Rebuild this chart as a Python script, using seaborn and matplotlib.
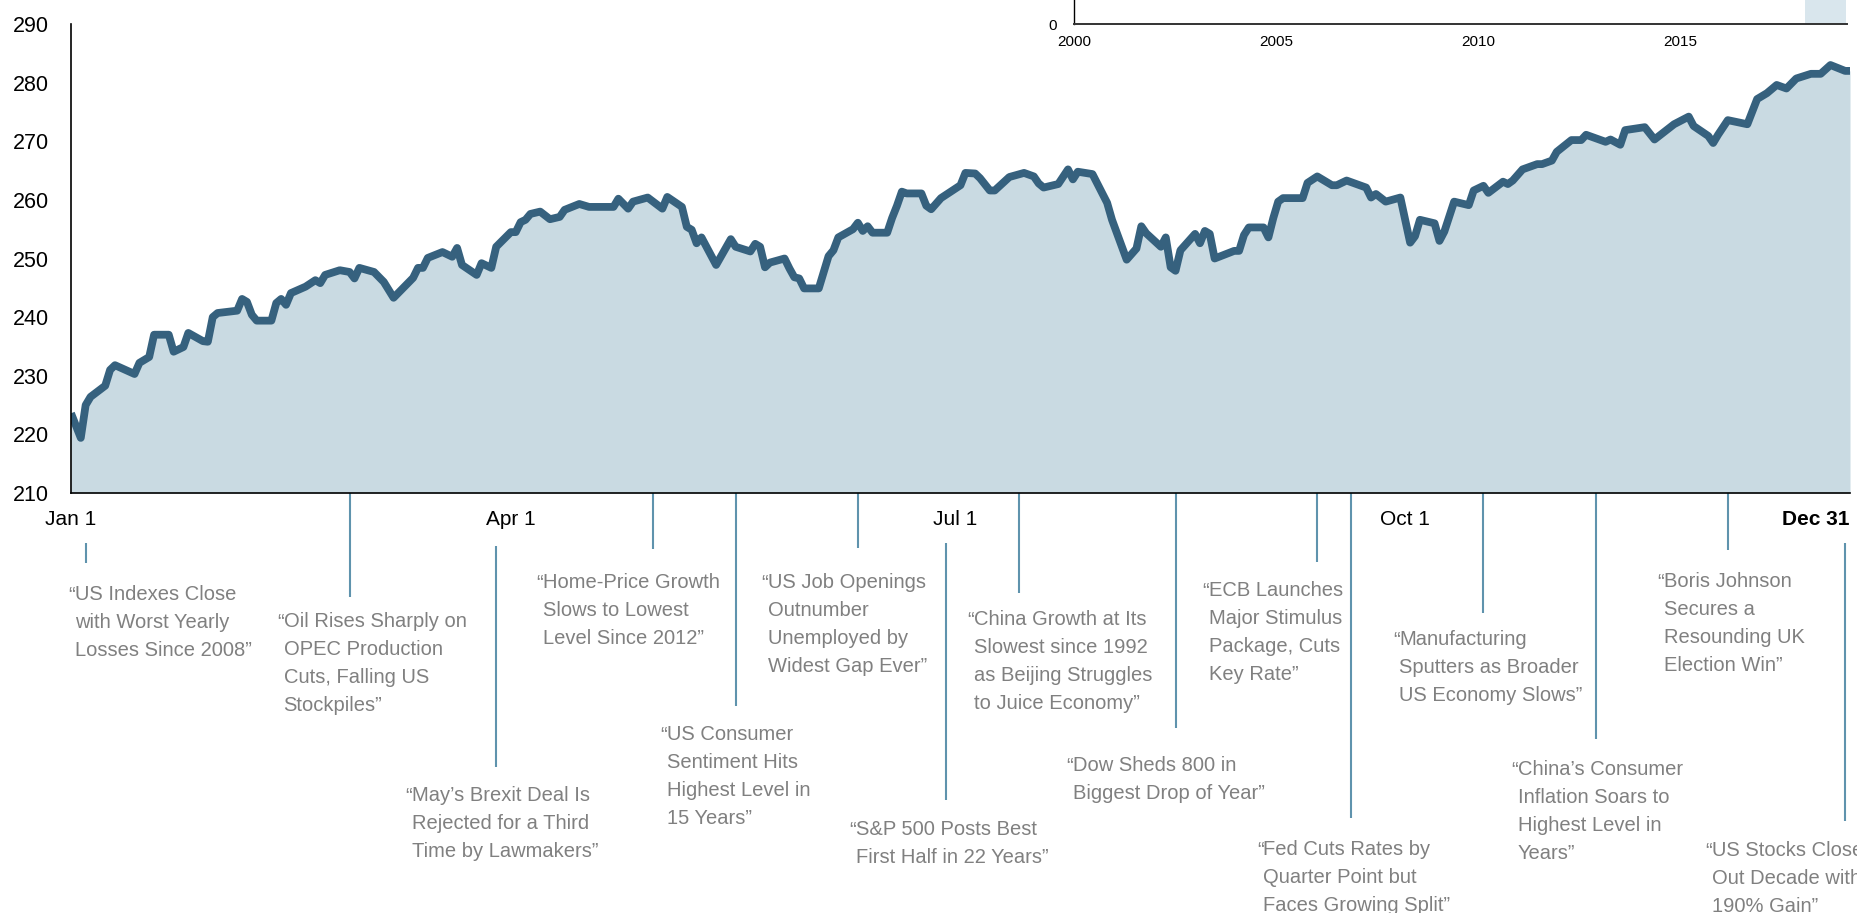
import matplotlib
matplotlib.use("Agg")
import matplotlib.pyplot as plt
import matplotlib.transforms as mtransforms
from matplotlib import font_manager
import pandas as pd
import seaborn as sns

# --- index level through 2019 (day of year, value) ---
trade_days = [0, 2, 3, 4, 7, 8, 9, 13, 14, 16, 17, 20, 21, 23, 24, 27, 28, 29, 30, 34,
              35, 36, 37, 38, 41, 42, 43, 44, 45, 48, 50, 51, 52, 55, 57, 58, 59, 62, 64, 66,
              70, 71, 72, 73, 76, 78, 79, 80, 83, 84, 86, 87, 90, 91, 92, 93, 94, 96, 98, 100,
              101, 104, 106, 111, 112, 114, 115, 118, 121, 122, 125, 126, 127, 128, 129, 132, 135, 136, 139, 140,
              141, 142, 143, 146, 147, 148, 149, 150, 153, 155, 156, 157, 160, 161, 162, 163, 164, 167, 168, 169,
              170, 171, 174, 175, 176, 178, 182, 183, 185, 186, 188, 189, 192, 195, 197, 198, 199, 202, 204, 205,
              206, 209, 212, 213, 216, 218, 219, 220, 223, 224, 225, 226, 227, 230, 231, 232, 233, 234, 238, 239,
              240, 241, 244, 245, 246, 247, 248, 252, 253, 255, 258, 259, 261, 265, 266, 267, 269, 272, 274, 275,
              276, 279, 280, 281, 283, 286, 287, 289, 290, 293, 294, 295, 297, 300, 301, 303, 304, 307, 309, 310,
              314, 315, 317, 318, 322, 324, 328, 331, 332, 335, 336, 337, 339, 343, 345, 347, 349, 351, 353, 356,
              358, 360, 363, 364]
index_level = [223.6, 219.4, 225.0, 226.4, 228.3, 231.0, 231.8, 230.3, 232.2, 233.2, 237.0, 237.0, 234.1, 234.9, 237.3, 235.9, 235.8, 240.0, 240.7, 241.1,
               243.1, 242.6, 240.4, 239.4, 239.4, 242.4, 243.1, 242.1, 244.1, 245.2, 246.3, 245.8, 247.2, 248.0, 247.7, 246.6, 248.4, 247.7, 246.0, 243.3,
               246.7, 248.4, 248.4, 250.1, 251.1, 250.3, 251.8, 248.9, 247.2, 249.2, 248.4, 252.0, 254.5, 254.5, 256.2, 256.6, 257.6, 258.0, 256.7, 257.1,
               258.3, 259.3, 258.8, 258.8, 260.2, 258.5, 259.7, 260.4, 258.5, 260.5, 258.8, 255.4, 254.9, 252.6, 253.6, 248.9, 253.3, 252.0, 251.2, 252.5,
               252.0, 248.5, 249.3, 250.0, 248.3, 246.8, 246.6, 244.9, 244.9, 250.4, 251.4, 253.6, 255.0, 256.1, 254.7, 255.5, 254.4, 254.4, 256.9, 259.0,
               261.4, 261.1, 261.1, 259.0, 258.4, 260.3, 262.5, 264.6, 264.5, 263.7, 261.6, 261.6, 263.9, 264.6, 264.0, 262.8, 262.1, 262.7, 265.2, 263.5,
               264.8, 264.4, 259.5, 256.6, 249.8, 251.7, 255.5, 254.3, 252.0, 253.6, 248.5, 247.9, 251.4, 254.2, 252.6, 254.7, 254.2, 250.0, 251.3, 251.3,
               254.0, 255.3, 255.3, 253.6, 256.9, 259.7, 260.3, 260.3, 262.9, 264.0, 262.5, 262.5, 263.3, 262.1, 260.4, 261.0, 259.7, 260.4, 252.7, 253.8,
               256.6, 256.0, 253.0, 254.6, 259.7, 259.1, 261.6, 262.4, 261.2, 263.1, 262.7, 263.3, 265.2, 266.1, 266.1, 266.7, 268.2, 270.2, 270.2, 271.1,
               269.9, 270.3, 269.4, 271.9, 272.4, 270.3, 272.9, 274.2, 272.6, 270.9, 269.7, 271.1, 273.6, 272.9, 277.2, 278.2, 279.6, 279.0, 280.7, 281.5,
               281.5, 283.0, 282.0, 282.0]

tick_dates = ["2019-01-01", "2019-04-01", "2019-07-01", "2019-10-01", "2019-12-31"]
tick_labels = ["Jan 1", "Apr 1", "Jul 1", "Oct 1", "Dec 31"]
y_ticks = [210, 220, 230, 240, 250, 260, 270, 280, 290]

# headlines
event_dates = ["2019-01-04", "2019-02-27", "2019-03-29", "2019-04-30", "2019-05-17",
               "2019-06-11", "2019-06-29", "2019-07-14", "2019-08-15", "2019-09-13",
               "2019-09-20", "2019-10-17", "2019-11-09", "2019-12-06", "2019-12-30"]
headlines = [
    "US Indexes Close\nwith Worst Yearly\nLosses Since 2008”",
    "Oil Rises Sharply on\nOPEC Production\nCuts, Falling US\nStockpiles”",
    "May’s Brexit Deal Is\nRejected for a Third\nTime by Lawmakers”",
    "Home-Price Growth\nSlows to Lowest\nLevel Since 2012”",
    "US Consumer\nSentiment Hits\nHighest Level in\n15 Years”",
    "US Job Openings\nOutnumber\nUnemployed by\nWidest Gap Ever”",
    "S&P 500 Posts Best\nFirst Half in 22 Years”",
    "China Growth at Its\nSlowest since 1992\nas Beijing Struggles\nto Juice Economy”",
    "Dow Sheds 800 in\nBiggest Drop of Year”",
    "ECB Launches\nMajor Stimulus\nPackage, Cuts\nKey Rate”",
    "Fed Cuts Rates by\nQuarter Point but\nFaces Growing Split”",
    "Manufacturing\nSputters as Broader\nUS Economy Slows”",
    "China’s Consumer\nInflation Soars to\nHighest Level in\nYears”",
    "Boris Johnson\nSecures a\nResounding UK\nElection Win”",
    "US Stocks Close\nOut Decade with\n190% Gain”",
]

# inset: long-run context, 2019 highlighted
inset_ticks = [2000, 2005, 2010, 2015]
highlight_span = (2018.1, 2019.1)

# layout of the headline callouts (figure pixels from top)
leader_top = [543, 493, 546, 493, 493, 493, 543, 493, 493, 493, 493, 493, 493, 493, 543]
leader_bottom = [563, 597, 767, 549, 706, 548, 800, 593, 728, 562, 818, 613, 739, 550, 821]
text_dx = [-11, -66, -84, -110, -69, -90, -90, -45, -103, -108, -88, -84, -78, -64, -133]
text_first = [592, 619, 793, 580, 732, 580, 827, 617, 763, 588, 847, 637, 767, 579, 848]

LINE = "#36617e"
FILL = "#c9dae2"
LEADER = "#5f93ad"
GREY = "#808080"
W, H, DPI = 1858, 913, 100

sns.set_theme(style="white")
plt.rcParams["font.family"] = ["Liberation Sans", "DejaVu Sans"]

names = {f.name for f in font_manager.fontManager.ttflist}
if "Liberation Sans Narrow" in names:
    note_font = ["Liberation Sans Narrow", "Liberation Sans"]
    note_size = 17
else:
    note_font = ["Liberation Sans", "DejaVu Sans"]
    note_size = 14.5

df = pd.DataFrame({
    "date": pd.Timestamp("2019-01-01") + pd.to_timedelta(trade_days, unit="D"),
    "value": index_level,
})

fig = plt.figure(figsize=(W / DPI, H / DPI), dpi=DPI)


def fy(px):
    return 1 - px / H


ax = fig.add_axes([71 / W, fy(493), (1850 - 71) / W, (493 - 24) / H])
ax.fill_between(df["date"], df["value"], 210, color=FILL, lw=0, zorder=1)
sns.lineplot(data=df, x="date", y="value", ax=ax, color=LINE, linewidth=5.6,
             estimator=None, sort=False, zorder=3)
for ln in ax.lines:
    ln.set_solid_joinstyle("round")
    ln.set_solid_capstyle("butt")

ax.set_xlim(pd.Timestamp("2019-01-01"), pd.Timestamp("2019-12-31"))
ax.set_ylim(210, 290)
ax.set_yticks(y_ticks)
ax.set_xticks(pd.to_datetime(tick_dates))
ax.set_xticklabels(tick_labels)
ax.set_xlabel("")
ax.set_ylabel("")
ax.tick_params(axis="y", length=0, pad=16, labelsize=15.5, labelcolor="black")
ax.tick_params(axis="x", length=0, pad=12, labelsize=15, labelcolor="black")
last = ax.get_xticklabels()[-1]
last.set_ha("right")
last.set_fontweight("bold")
for side in ["top", "right"]:
    ax.spines[side].set_visible(False)
for side in ["left", "bottom"]:
    ax.spines[side].set_color("black")
    ax.spines[side].set_linewidth(1.2)
    ax.spines[side].set_zorder(4)

# headline callouts
blend = mtransforms.blended_transform_factory(ax.transData, fig.transFigure)
line_step = 28
for d, text, top, bot, dx, y0 in zip(event_dates, headlines, leader_top,
                                      leader_bottom, text_dx, text_first):
    d = pd.Timestamp(d)
    ax.plot([d, d], [fy(top), fy(bot)], transform=blend, color=LEADER,
            lw=1.5, clip_on=False, solid_capstyle="butt")
    shift = blend + mtransforms.ScaledTranslation(dx / DPI, 0, fig.dpi_scale_trans)
    ax.text(d, fy(y0 + 8), "“", transform=shift, ha="right", va="baseline",
            color=GREY, fontsize=note_size, family=note_font, clip_on=False)
    for i, row in enumerate(text.split("\n")):
        ax.text(d, fy(y0 + 8 + i * line_step), row, transform=shift, ha="left",
                va="baseline", color=GREY, fontsize=note_size, family=note_font,
                clip_on=False)

# inset (top cut off by the figure edge)
ax_in = fig.add_axes([1074 / W, fy(24), (1847 - 1074) / W, 0.3])
ax_in.axvspan(*highlight_span, color="#d9e6ed", lw=0)
ax_in.set_xlim(2000, 2019.13)
ax_in.set_ylim(0, 100)
ax_in.set_xticks(inset_ticks)
ax_in.set_xticklabels([str(t) for t in inset_ticks])
ax_in.set_yticks([0])
ax_in.tick_params(length=0, labelsize=11, labelcolor="black")
ax_in.tick_params(axis="x", pad=8)
ax_in.tick_params(axis="y", pad=12)
ax_in.set_facecolor("none")
for side in ["top", "right"]:
    ax_in.spines[side].set_visible(False)
ax_in.spines["left"].set_linewidth(1.0)
ax_in.spines["bottom"].set_linewidth(1.4)
ax_in.spines["left"].set_color("black")
ax_in.spines["bottom"].set_color("#333333")

fig.savefig("out.png", dpi=DPI)
